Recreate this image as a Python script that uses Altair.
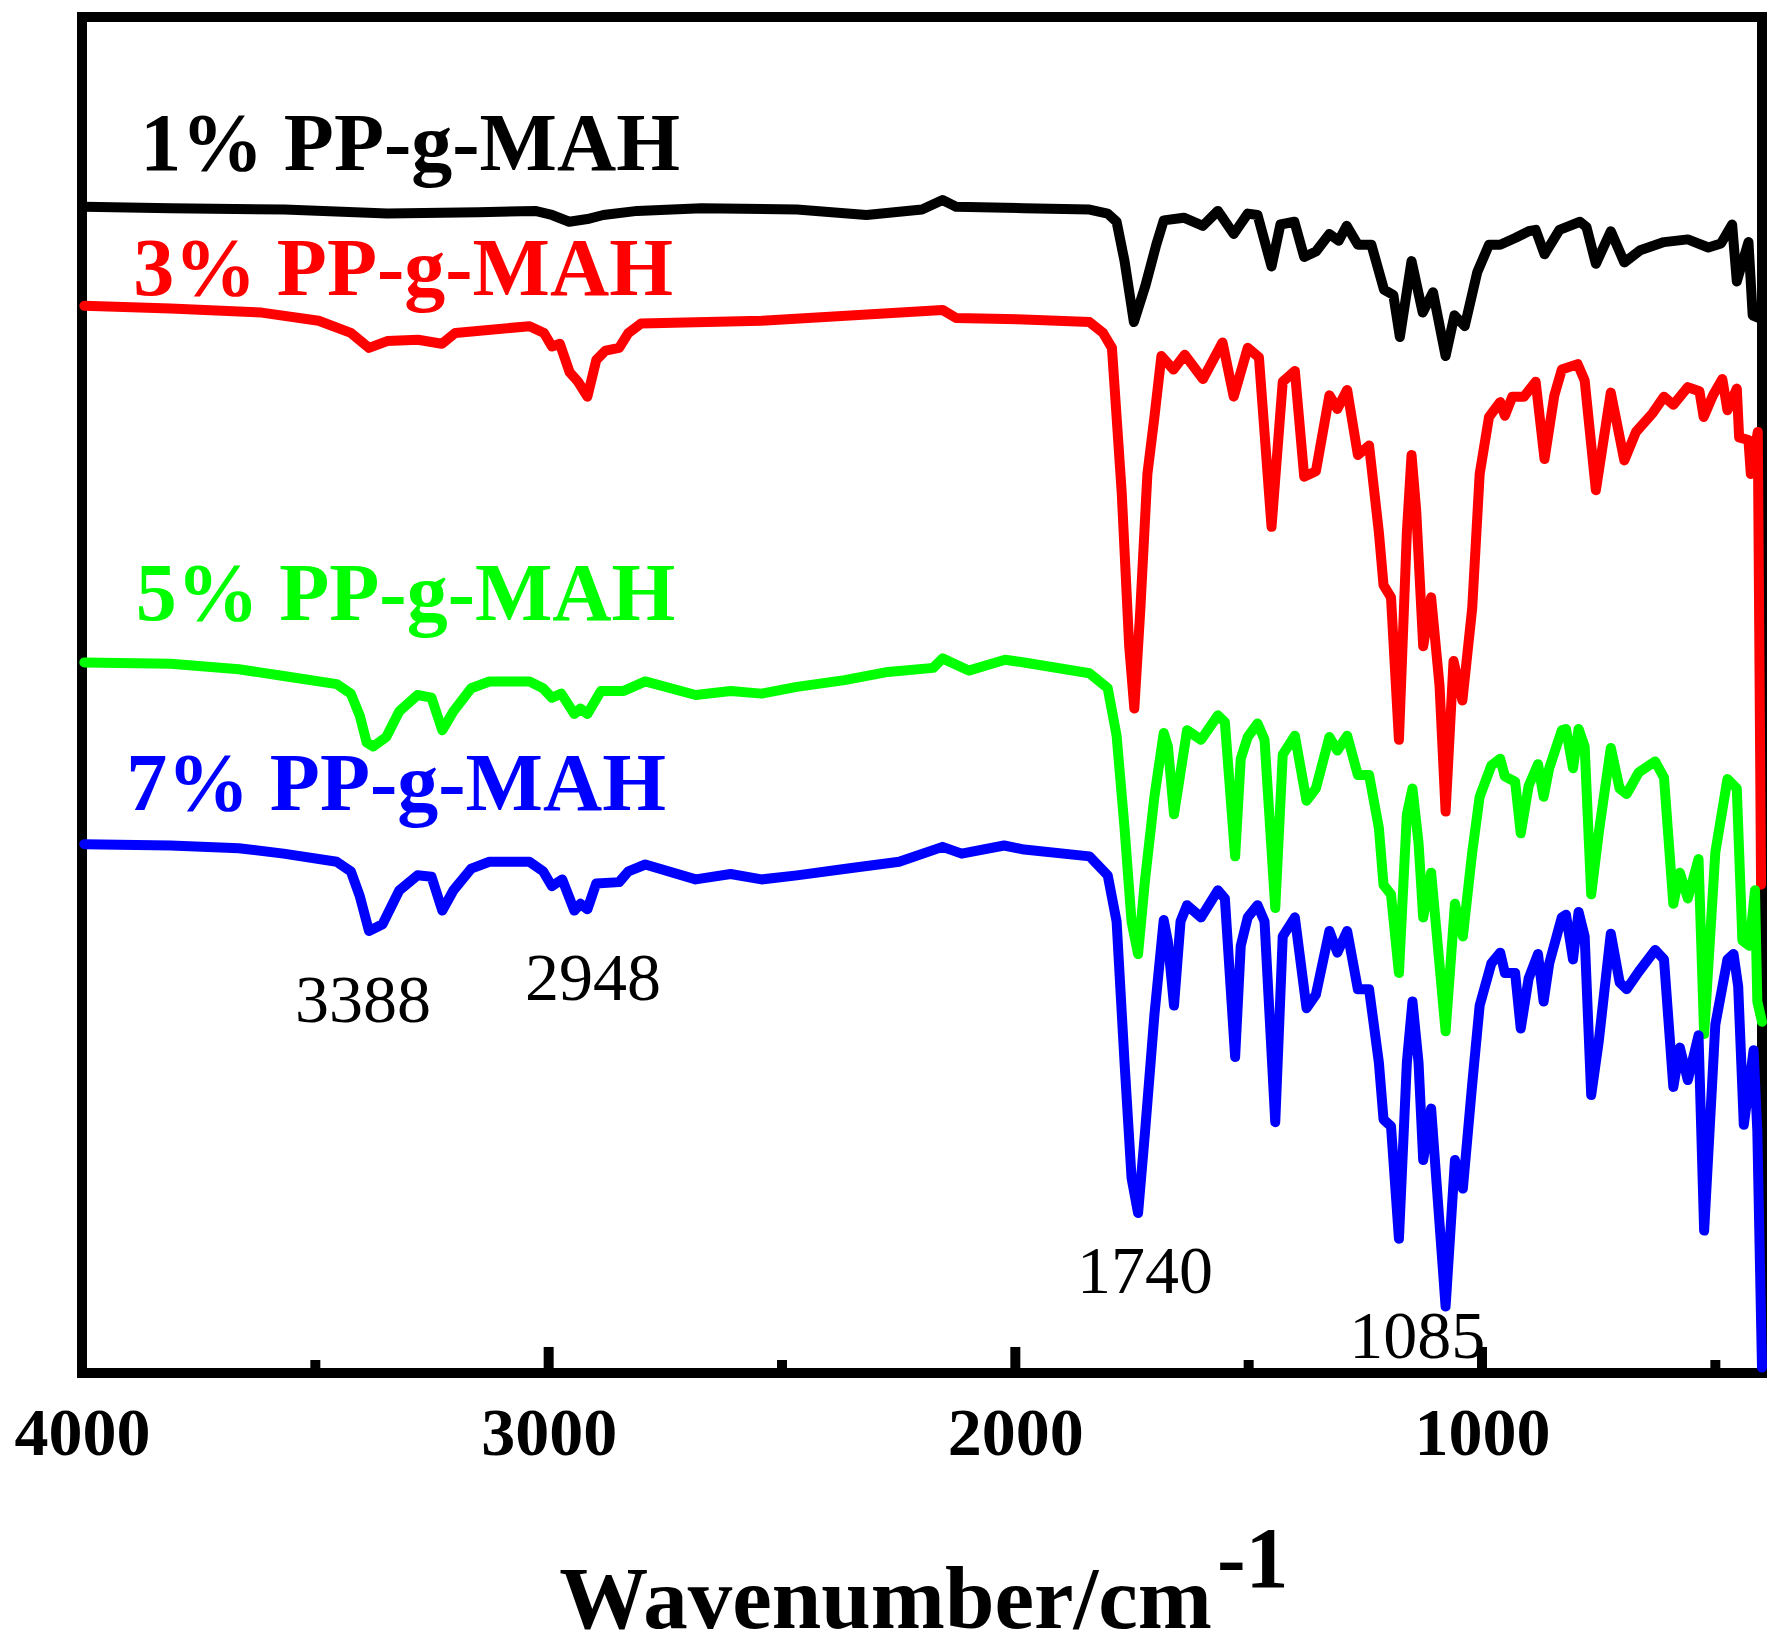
import pandas as pd
import altair as alt

# FTIR spectra of the PP-g-MAH blends
# wavenumber in cm-1, transmittance in a.u. (curves already stacked)
names = ["1% PP-g-MAH", "3% PP-g-MAH", "5% PP-g-MAH", "7% PP-g-MAH"]

wn_1 = [3995, 3810, 3566, 3346, 3151, 3029, 2993, 2956, 2917, 2883, 2810, 2673, 2468, 2319,
        2200, 2156, 2127, 1981, 1841, 1802, 1783, 1766, 1746, 1722, 1698, 1682, 1639, 1598,
        1566, 1532, 1502, 1481, 1451, 1432, 1402, 1381, 1356, 1327, 1307, 1290, 1266, 1237,
        1210, 1190, 1176, 1151, 1127, 1105, 1078, 1059, 1037, 1010, 985, 961, 929, 900, 885,
        866, 834, 790, 776, 756, 724, 695, 661, 610, 559, 515, 488, 464, 454, 429, 420, 407]
t_1 = [86.0, 85.9, 85.8, 85.5, 85.6, 85.7, 85.4, 84.9, 85.1, 85.4, 85.7, 85.9, 85.8, 85.4,
       85.8, 86.5, 86.0, 85.9, 85.8, 85.5, 84.9, 82.0, 77.5, 80.1, 83.2, 85.0, 85.2, 84.6,
       85.7, 84.0, 85.5, 85.4, 81.6, 84.7, 84.9, 82.3, 82.7, 84.0, 83.5, 84.6, 83.2, 83.2,
       79.9, 79.5, 76.4, 82.0, 78.2, 79.7, 75.0, 78.0, 77.2, 81.2, 83.2, 83.2, 83.7, 84.2, 84.3,
       82.5, 84.3, 84.9, 84.5, 81.8, 84.2, 81.9, 82.8, 83.4, 83.6, 83.0, 83.3, 84.7, 80.5, 83.4,
       78.0, 77.8]

wn_3 = [3995, 3810, 3615, 3493, 3424, 3385, 3346, 3280, 3229, 3200, 3041, 3010, 2993, 2976,
        2955, 2937, 2917, 2898, 2878, 2849, 2829, 2802, 2544, 2156, 2127, 1981, 1841, 1812,
        1793, 1772, 1756, 1745, 1732, 1717, 1702, 1687, 1661, 1637, 1598, 1556, 1532, 1502,
        1478, 1451, 1427, 1401, 1381, 1356, 1327, 1310, 1289, 1266, 1242, 1221, 1211, 1195,
        1178, 1161, 1151, 1141, 1126, 1109, 1091, 1078, 1061, 1042, 1021, 1005, 985, 961, 951,
        935, 910, 885, 866, 845, 829, 795, 780, 756, 724, 695, 670, 634, 610, 590, 559, 534,
        525, 505, 485, 474, 454, 449, 429, 424, 409, 402]
t_3 = [78.7, 78.5, 78.2, 77.6, 76.7, 75.6, 76.1, 76.2, 75.9, 76.7, 77.2, 76.7, 75.7, 75.9,
       73.8, 73.1, 72.0, 74.7, 75.4, 75.6, 76.7, 77.4, 77.6, 78.4, 77.8, 77.7, 77.5, 76.7,
       75.6, 64.9, 53.6, 49.0, 56.4, 66.3, 70.5, 75.0, 74.0, 75.1, 73.3, 76.0, 72.0, 75.6,
       74.9, 62.4, 73.1, 73.9, 66.1, 66.5, 72.1, 71.1, 72.5, 67.7, 68.4, 62.0, 58.1, 57.2,
       46.7, 62.0, 67.7, 63.6, 53.6, 57.2, 50.7, 41.4, 52.5, 49.6, 56.4, 66.3, 70.5, 71.6, 70.6,
       72.0, 72.0, 73.1, 67.4, 72.1, 74.0, 74.4, 73.2, 65.1, 72.3, 67.3, 69.4, 70.8, 72.0, 71.4,
       72.7, 72.4, 70.5, 72.1, 73.3, 71.0, 72.6, 69.0, 68.8, 66.3, 69.4, 36.0]

wn_5 = [3995, 3810, 3664, 3568, 3454, 3424, 3405, 3390, 3376, 3348, 3320, 3281, 3251, 3228,
        3204, 3166, 3127, 3041, 3012, 2993, 2973, 2945, 2932, 2917, 2888, 2839, 2793, 2685,
        2610, 2544, 2468, 2366, 2273, 2176, 2156, 2100, 2022, 1981, 1841, 1802, 1783, 1766,
        1751, 1737, 1722, 1702, 1682, 1673, 1660, 1646, 1632, 1602, 1566, 1551, 1529, 1517,
        1502, 1481, 1466, 1443, 1427, 1401, 1376, 1356, 1327, 1310, 1289, 1266, 1242, 1221,
        1211, 1195, 1178, 1161, 1149, 1136, 1126, 1109, 1078, 1058, 1041, 1021, 1005, 980, 961,
        951, 929, 917, 900, 880, 868, 856, 829, 820, 805, 793, 780, 766, 750, 724, 705, 690,
        664, 629, 610, 590, 576, 559, 536, 524, 500, 474, 454, 442, 427, 415, 410, 400]
t_5 = [52.4, 52.3, 51.9, 51.4, 50.8, 50.1, 48.5, 46.5, 46.2, 46.9, 48.8, 50.0, 49.8, 47.4,
       48.8, 50.5, 51.0, 51.0, 50.5, 49.8, 50.1, 48.6, 49.0, 48.6, 50.3, 50.3, 51.0, 50.0,
       50.3, 50.1, 50.6, 51.1, 51.7, 52.0, 52.7, 51.8, 52.6, 52.4, 51.6, 50.5, 47.0, 40.2,
       33.3, 30.9, 36.4, 42.5, 47.2, 46.2, 41.2, 44.3, 47.4, 46.7, 48.5, 48.0, 38.1, 45.3,
       46.9, 47.9, 46.7, 34.3, 45.6, 47.0, 42.2, 43.1, 46.9, 45.9, 47.0, 44.1, 44.1, 40.2,
       36.0, 35.3, 29.5, 41.2, 43.1, 39.1, 33.6, 36.9, 25.2, 34.6, 32.2, 38.4, 42.5, 44.8, 45.3,
       44.0, 43.6, 39.8, 43.3, 44.9, 42.5, 44.6, 47.4, 47.5, 44.6, 47.5, 46.2, 35.3, 39.8, 46.1,
       43.1, 42.7, 44.3, 45.1, 43.9, 34.6, 36.9, 35.0, 37.9, 25.0, 38.4, 43.8, 43.1, 31.9, 31.5,
       35.6, 27.4, 25.9]

wn_7 = [3995, 3810, 3664, 3568, 3454, 3424, 3405, 3385, 3356, 3320, 3281, 3251, 3228, 3204,
        3166, 3127, 3041, 3012, 2993, 2971, 2945, 2932, 2917, 2898, 2849, 2829, 2793, 2685,
        2610, 2544, 2468, 2359, 2249, 2156, 2115, 2024, 1981, 1841, 1802, 1783, 1766, 1751,
        1737, 1722, 1702, 1682, 1673, 1660, 1646, 1632, 1602, 1566, 1551, 1529, 1517, 1502,
        1481, 1466, 1443, 1427, 1401, 1376, 1356, 1327, 1310, 1289, 1266, 1242, 1221, 1211,
        1195, 1178, 1161, 1149, 1136, 1126, 1109, 1078, 1058, 1041, 1021, 1005, 980, 961, 951,
        929, 917, 900, 880, 868, 856, 829, 820, 805, 793, 780, 766, 750, 724, 705, 690, 664,
        629, 610, 590, 576, 559, 536, 524, 500, 474, 461, 451, 439, 429, 418, 410, 400]
t_7 = [39.0, 38.9, 38.7, 38.3, 37.7, 37.0, 35.2, 32.6, 33.1, 35.6, 36.7, 36.6, 34.1, 35.6,
       37.2, 37.7, 37.7, 37.0, 35.9, 36.4, 34.1, 34.6, 34.2, 36.1, 36.2, 37.0, 37.5, 36.4,
       36.8, 36.4, 36.7, 37.2, 37.7, 38.8, 38.3, 38.9, 38.6, 38.1, 36.7, 33.3, 22.9, 14.4,
       11.8, 17.8, 26.4, 33.4, 31.8, 27.1, 33.3, 34.5, 33.6, 35.6, 35.0, 23.3, 31.5, 33.6,
       34.5, 33.3, 18.5, 32.2, 33.6, 26.9, 27.9, 32.6, 31.0, 32.6, 28.3, 28.3, 22.9, 18.7,
       18.2, 9.9, 22.9, 27.4, 22.9, 15.7, 19.5, 4.9, 15.7, 13.6, 21.3, 27.1, 30.2, 31.0, 29.5,
       29.5, 25.4, 29.1, 30.9, 27.4, 30.2, 33.6, 33.8, 30.5, 34.0, 32.2, 20.5, 24.4, 32.4, 28.8,
       28.3, 29.6, 31.2, 30.5, 21.1, 24.0, 21.6, 24.9, 10.5, 25.7, 30.5, 30.9, 28.5, 18.3, 20.9,
       23.8, 17.8, 0.4]

# curve labels
label_wn = [3875, 3890, 3885, 3905]
label_t = [88.7, 79.5, 55.5, 41.5]

# peak assignments
peak_text = ["3388", "2948", "1740", "1085"]
peak_wn = [3398, 2905, 1722, 1139]
peak_t = [25.9, 27.5, 5.9, 1.1]

# inner ticks on the bottom axis
tick_wn = [3500, 3000, 2500, 2000, 1500, 1000, 500]
tick_len = [0.96, 1.92, 0.96, 1.92, 0.96, 1.92, 0.96]

colors = ["#000000", "#ff0000", "#00ff00", "#0000ff"]
font = "Liberation Serif"

frames = []
for name, w, t in zip(names, [wn_1, wn_3, wn_5, wn_7], [t_1, t_3, t_5, t_7]):
    d = pd.DataFrame({"wn": w, "t": t})
    d["name"] = name
    d["idx"] = range(len(d))
    frames.append(d)
df = pd.concat(frames, ignore_index=True)

x_scale = alt.Scale(domain=[400, 4000], reverse=True, nice=False, zero=False)
y_scale = alt.Scale(domain=[0, 100], nice=False, zero=False)
color_scale = alt.Scale(domain=names, range=colors)

x_axis = alt.Axis(values=[4000, 3000, 2000, 1000], format="d", title=None,
                  labelFlush=False, labelPadding=27, labelFont=font,
                  labelFontSize=68, labelFontWeight="bold", labelColor="black",
                  domain=False, ticks=False, grid=False)
x_enc = alt.X("wn:Q", scale=x_scale, axis=x_axis)
y_enc = alt.Y("t:Q", scale=y_scale, axis=None)

lines = alt.Chart(df).mark_line(strokeWidth=10, strokeJoin="round", strokeCap="round").encode(
    x=x_enc,
    y=y_enc,
    color=alt.Color("name:N", scale=color_scale, legend=None),
    order="idx:Q",
)

tick_df = pd.DataFrame({"wn": tick_wn, "t": [0] * len(tick_wn), "len": tick_len})
ticks = alt.Chart(tick_df).mark_rule(color="black", strokeWidth=10).encode(
    x=x_enc,
    y=y_enc,
    y2="len:Q",
)

labels = alt.Chart(pd.DataFrame({"name": names, "wn": label_wn, "t": label_t})).mark_text(
    align="left", baseline="alphabetic", font=font, fontSize=82, fontWeight="bold"
).encode(
    x=x_enc,
    y=y_enc,
    text="name:N",
    color=alt.Color("name:N", scale=color_scale, legend=None),
)

peaks = alt.Chart(pd.DataFrame({"text": peak_text, "wn": peak_wn, "t": peak_t})).mark_text(
    align="center", baseline="alphabetic", font=font, fontSize=68, color="black"
).encode(
    x=x_enc,
    y=y_enc,
    text="text:N",
)

# axis title with the superscript drawn as two texts
title_main = alt.Chart(pd.DataFrame({"text": ["Wavenumber/cm"], "wn": [1579], "t": [-18.8]})).mark_text(
    align="right", baseline="alphabetic", font=font, fontSize=89, fontWeight="bold", color="black"
).encode(
    x=x_enc,
    y=y_enc,
    text="text:N",
)
title_sup = alt.Chart(pd.DataFrame({"text": ["-1"], "wn": [1568], "t": [-15.8]})).mark_text(
    align="left", baseline="alphabetic", font=font, fontSize=86, fontWeight="bold", color="black"
).encode(
    x=x_enc,
    y=y_enc,
    text="text:N",
)

chart = alt.layer(lines, ticks, labels, peaks, title_main, title_sup).properties(
    width=1680,
    height=1356,
    padding={"left": 74, "top": 9, "right": 12, "bottom": 276},
    autosize="none",
    background="white",
).configure_view(
    stroke="black", strokeWidth=10
)

chart.save("out.html", embed_options={"renderer": "svg", "actions": False})
